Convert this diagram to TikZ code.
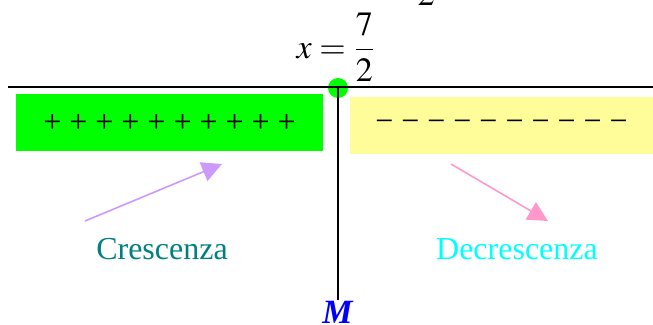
\documentclass[tikz,border=0pt]{standalone}
\usepackage{amsmath}
\usepackage{mathptmx}
\usepackage{fontspec}
\setmainfont{Liberation Serif}
\usetikzlibrary{arrows.meta}

\definecolor{growgreen}{RGB}{0,255,0}
\definecolor{shrinkyellow}{RGB}{255,253,153}
\definecolor{growviolet}{RGB}{204,153,255}
\definecolor{shrinkpink}{RGB}{255,153,204}
\definecolor{growteal}{RGB}{0,128,128}
\definecolor{shrinkcyan}{RGB}{0,255,255}

\begin{document}
\begin{tikzpicture}[
		x=0.5pt,
		y=-0.5pt,
		font=\fontsize{16}{19}\selectfont,
		signbox/.style={inner sep=0pt, minimum height=28.5pt},
		tipline/.style={line width=0.8pt, -{Triangle[length=10pt, width=10pt]}}
		]
		\useasboundingbox (0,0) rectangle (653,325);
		
		% the abscissa of the maximum
		\node[font=\fontsize{17}{20}\selectfont] (cut) at (426,-5.5) {$2$};
		\node[font=\fontsize{17}{20}\selectfont] (eq) at (336,47) {$x=\dfrac{7}{2}$};
		
		% sign boxes
		\node[signbox, fill=growgreen, minimum width=153.5pt] (plus) at (169.5,123)
		{+ + + + + + + + + +};
		\node[signbox, fill=shrinkyellow, minimum width=151.5pt] (minus) at (501.5,126)
		{− − − − − − − − − −};
		
		% axis and point
		\node[circle, fill=growgreen, inner sep=0pt, minimum size=10pt] (dot) at (338,88) {};
		\node[text=blue, font=\fontsize{17}{20}\selectfont, inner sep=0pt] (max) at (338,312) {\textbf{\textit{M}}};
		\coordinate (left) at (8,87);
		\coordinate (right) at (653,87);
		\draw[line width=1pt] (left) -- (right);
		\draw[line width=0.75pt] (dot.center) -- (max.north);
		
		% arrows
		\coordinate (gfrom) at (85,221);
		\coordinate (gto) at (222,164);
		\draw[tipline, growviolet] (gfrom) -- (gto);
		\coordinate (sfrom) at (451,164);
		\coordinate (sto) at (548,221);
		\draw[tipline, shrinkpink] (sfrom) -- (sto);
		
		\node[text=growteal] (grow) at (162,249) {Crescenza};
		\node[text=shrinkcyan] (shrink) at (517,249) {Decrescenza};
		
	\end{tikzpicture}
\end{document}
